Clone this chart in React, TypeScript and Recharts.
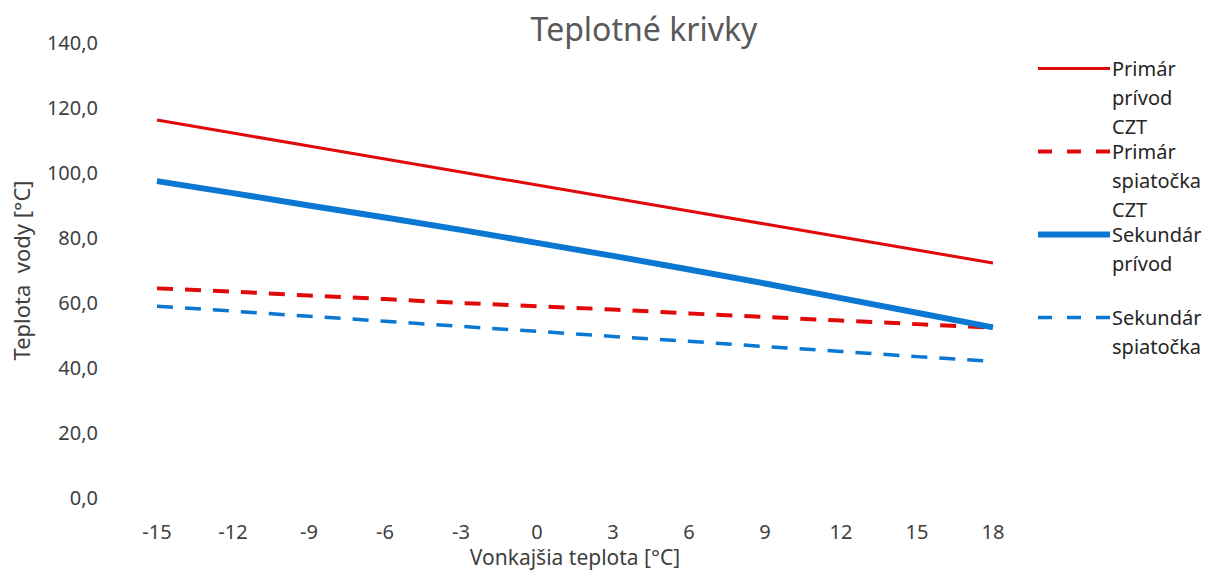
import { Legend, Line, LineChart, XAxis, YAxis } from 'recharts'

const categories = [-15, -12, -9, -6, -3, 0, 3, 6, 9, 12, 15, 18];
const primarPrivod = [116.3, 112.3, 108.3, 104.3, 100.3, 96.3, 92.3, 88.3, 84.3, 80.3, 76.3, 72.3];
const primarSpiatocka = [64.5, 63.5, 62.3, 61.2, 60, 59, 58, 56.8, 55.7, 54.6, 53.5, 52.4];
const sekundarPrivod = [97.5, 93.8, 90, 86.3, 82.5, 78.5, 74.5, 70.3, 66, 61.5, 57, 52.5];
const sekundarSpiatocka = [59, 57.5, 55.9, 54.4, 52.8, 51.3, 49.7, 48.2, 46.6, 45.1, 43.5, 42];
const yTicks = [0, 20, 40, 60, 80, 100, 120, 140];

const series = [
    { key: 'pp', name: 'Primár prívod CZT', values: primarPrivod, color: '#e00a0a', width: 3, dash: undefined, legendDash: undefined },
    { key: 'ps', name: 'Primár spiatočka CZT', values: primarSpiatocka, color: '#e00a0a', width: 4, dash: '16 12', legendDash: '14 15' },
    { key: 'sp', name: 'Sekundár prívod', values: sekundarPrivod, color: '#0a78d2', width: 6, dash: undefined, legendDash: undefined },
    { key: 'ss', name: 'Sekundár spiatočka', values: sekundarSpiatocka, color: '#0a78d2', width: 3.5, dash: '16 12', legendDash: '14 15' },
];

const data = categories.map((c, i) => {
    const row: any = { t: c };
    series.forEach((s) => { row[s.key] = s.values[i]; });
    return row;
});

const font = '"Noto Sans", sans-serif';
const textColor = '#404040';

const LegendBox = () => (
    <div style={{ fontFamily: font, fontSize: 20, color: '#262626' }}>
        {series.map((s) => (
            <div key={s.key} style={{ height: 83, display: 'flex', alignItems: 'flex-start' }}>
                <svg width={74} height={29} style={{ flex: 'none' }}>
                    <line x1={0} x2={72} y1={14.5} y2={14.5} stroke={s.color} strokeWidth={s.width}
                        strokeDasharray={s.legendDash} />
                </svg>
                <div style={{ width: 'min-content', lineHeight: '29px' }}>{s.name}</div>
            </div>
        ))}
    </div>
);

export default function App() {
    return (
        <div style={{ position: 'absolute', left: 0, top: 0, width: 1214, height: 572, background: '#fff' }}>
            <div style={{
                position: 'absolute', left: 444, width: 400, top: 7, textAlign: 'center',
                fontFamily: font, fontSize: 32, color: '#595959'
            }}>
                Teplotné krivky
            </div>
            <LineChart width={1214} height={572} data={data}
                margin={{ top: 43, right: 7, bottom: 0, left: 0 }}>
                <XAxis dataKey="t" axisLine={false} tickLine={false} tickSize={0} tickMargin={27}
                    height={74} padding={{ left: 38, right: 38 }}
                    tick={{ fill: textColor, fontSize: 20, fontFamily: font }}
                    label={{ value: 'Vonkajšia teplota [°C]', position: 'insideBottom', offset: 7,
                        fill: textColor, fontSize: 21, fontFamily: font }} />
                <YAxis domain={[0, 140]} ticks={yTicks} axisLine={false} tickLine={false} tickSize={0}
                    tickMargin={21} width={119}
                    tickFormatter={(v: number) => v.toFixed(1).replace('.', ',')}
                    tick={{ fill: textColor, fontSize: 20, fontFamily: font }}
                    label={{ value: 'Teplota\u00a0 vody [°C]', angle: -90, position: 'insideLeft', offset: 22,
                        style: { textAnchor: 'middle' }, fill: textColor, fontSize: 22, fontFamily: font }} />
                {series.map((s) => (
                    <Line key={s.key} dataKey={s.key} name={s.name} stroke={s.color} strokeWidth={s.width}
                        strokeDasharray={s.dash} dot={false} activeDot={false} isAnimationActive={false} />
                ))}
                <Legend layout="vertical" align="right" verticalAlign="top" content={() => <LegendBox />}
                    wrapperStyle={{ left: 1038, top: 54, width: 176 }} />
            </LineChart>
        </div>
    );
}
